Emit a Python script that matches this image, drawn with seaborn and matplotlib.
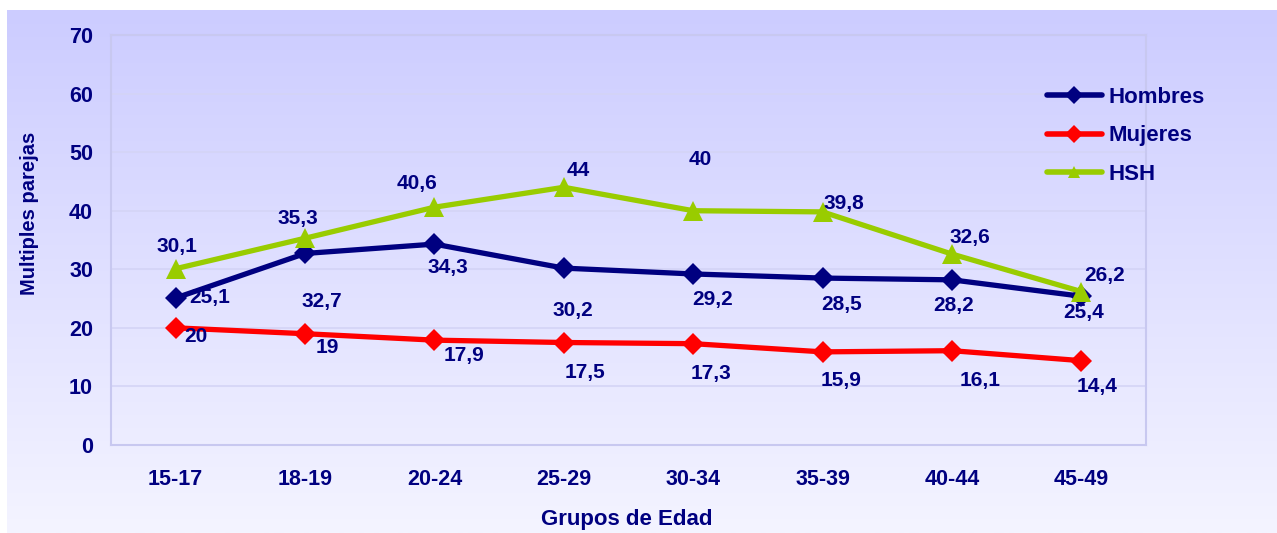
import numpy as np
import pandas as pd
import matplotlib
matplotlib.use("Agg")
import matplotlib.pyplot as plt
import seaborn as sns

# data
grupos = ["15-17", "18-19", "20-24", "25-29", "30-34", "35-39", "40-44", "45-49"]
hombres = [25.1, 32.7, 34.3, 30.2, 29.2, 28.5, 28.2, 25.4]
mujeres = [20, 19, 17.9, 17.5, 17.3, 15.9, 16.1, 14.4]
hsh = [30.1, 35.3, 40.6, 44, 40, 39.8, 32.6, 26.2]
series = ["Hombres", "Mujeres", "HSH"]

df = pd.DataFrame({
    "grupo": grupos * 3,
    "valor": hombres + mujeres + hsh,
    "serie": np.repeat(series, len(grupos)),
})

sns.set_theme(style="white")
plt.rcParams["font.family"] = ["Liberation Sans", "DejaVu Sans"]
navy = "#000080"
colors = {"Hombres": "#000080", "Mujeres": "#FF0000", "HSH": "#99CC00"}
markers = {"Hombres": "D", "Mujeres": "D", "HSH": "^"}

fig = plt.figure(figsize=(12.77, 5.33), dpi=100)
fig.patch.set_facecolor("white")

# gradient background of the chart area
bg = fig.add_axes([7 / 1277, 0, 1 - 7 / 1277, 1 - 10 / 533])
grad = np.linspace(0, 1, 256)[:, None]
top = np.array([204, 204, 255]) / 255
bot = np.array([244, 244, 255]) / 255
img = top[None, None, :] * (1 - grad[:, :, None]) + bot[None, None, :] * grad[:, :, None]
bg.imshow(img, aspect="auto", extent=[0, 1, 0, 1])
bg.axis("off")

ax = fig.add_axes([111 / 1277, 1 - 445 / 533, (1146 - 111) / 1277, (445 - 35) / 533])
ax.patch.set_alpha(0)

sns.lineplot(data=df, x="grupo", y="valor", hue="serie", style="serie",
             palette=colors, markers=markers, dashes=False, linewidth=3.8,
             markersize=11, markeredgewidth=0, ax=ax, sort=False)
for ln in ax.lines:
    if ln.get_marker() == "^":
        ln.set_markersize(14)

# label offsets in pixels (dx, dy-down) for each point
offs = {
    "Hombres": [(34, 0), (17, 48), (13, 23), (9, 42), (19, 26), (19, 26), (2, 26), (2, 16)],
    "Mujeres": [(20, 9), (22, 14), (30, 15), (21, 30), (18, 30), (19, 29), (28, 30), (16, 26)],
    "HSH": [(1, -22), (-7, -20), (-17, -24), (14, -17), (7, -51), (21, -8), (18, -17), (23, -16)],
}
vals = {"Hombres": hombres, "Mujeres": mujeres, "HSH": hsh}
for name in series:
    for i, v in enumerate(vals[name]):
        dx, dy = offs[name][i]
        lab = f"{v:g}".replace(".", ",")
        ax.annotate(lab, (i, v), xytext=(dx * 0.72, -dy * 0.72), textcoords="offset points",
                    ha="center", va="center", fontsize=15, fontweight="bold", color=navy)

ax.set_xlim(-0.5, len(grupos) - 0.5)
ax.set_ylim(0, 70)
ax.set_yticks(range(0, 71, 10))
ax.set_xticks(range(len(grupos)))
ax.set_xticks(np.arange(-0.5, len(grupos), 1), minor=True)
ax.tick_params(axis="x", which="major", length=0, pad=17)
ax.tick_params(axis="x", which="minor", length=5, color="#C8C8F0", width=1.5)
ax.tick_params(axis="y", length=5, color="#C8C8F0", width=1.5, pad=8)
for t in ax.get_xticklabels() + ax.get_yticklabels():
    t.set_fontsize(15.5)
    t.set_fontweight("bold")
    t.set_color(navy)
ax.grid(axis="y", color="#D4D4F6", linewidth=1.2)
for s in ax.spines.values():
    s.set_color("#C8C8F0")
    s.set_linewidth(1.5)
ax.set_xlabel("")
ax.set_ylabel("")

fig.text(30 / 1277, 1 - 213 / 533, "Multiples parejas", rotation=90, ha="center", va="center",
         fontsize=14.5, fontweight="bold", color=navy)
fig.text(627 / 1277, 1 - 519 / 533, "Grupos de Edad", ha="center", va="center",
         fontsize=16, fontweight="bold", color=navy)

leg = ax.legend(loc="upper left", bbox_to_anchor=(1036 / 1277, 1 - 76 / 533),
                bbox_transform=fig.transFigure, frameon=False, handlelength=2.45,
                labelspacing=0.78, handletextpad=0.3, borderpad=0,
                prop={"size": 16, "weight": "bold"})
for t in leg.get_texts():
    t.set_color(navy)
for h in leg.legend_handles:
    h.set_linewidth(4)
    h.set_markersize(9)

fig.savefig("out.png", dpi=100)
